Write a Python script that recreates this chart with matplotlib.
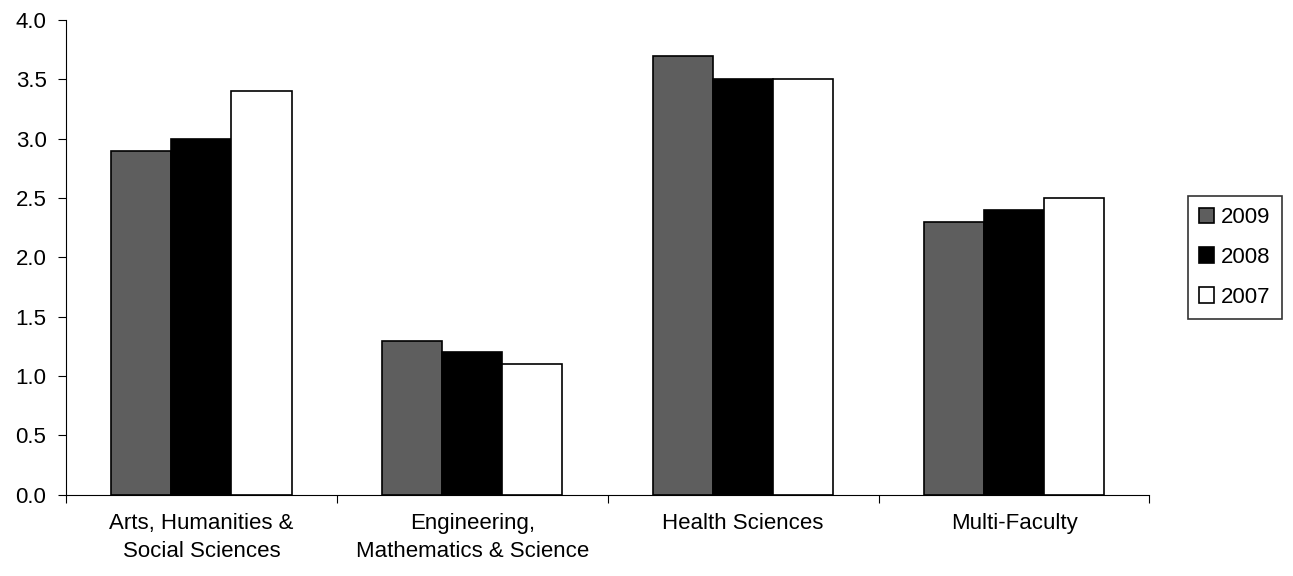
import numpy as np
from matplotlib import pyplot as plt

plt.rcParams['font.family'] = ['Liberation Sans', 'DejaVu Sans']

categories = ['Arts, Humanities &\nSocial Sciences', 'Engineering,\nMathematics & Science',
              'Health Sciences', 'Multi-Faculty']
years = ['2009', '2008', '2007']
v2009 = [2.9, 1.3, 3.7, 2.3]
v2008 = [3.0, 1.2, 3.5, 2.4]
v2007 = [3.4, 1.1, 3.5, 2.5]

fig = plt.figure(figsize=(12.93, 5.76), dpi=100)
ax = fig.add_axes([0.051, 0.141, 0.838, 0.824])

x = np.arange(len(categories))
w = 0.222
ax.bar(x - w, v2009, w, color='#5e5e5e', edgecolor='black', linewidth=1.2, label=years[0])
ax.bar(x, v2008, w, color='black', edgecolor='black', linewidth=1.2, label=years[1])
ax.bar(x + w, v2007, w, color='white', edgecolor='black', linewidth=1.2, label=years[2])

ax.set_xlim(-0.5, len(categories) - 0.5)
ax.set_ylim(0, 4.0)
ax.set_yticks(np.arange(0, 4.01, 0.5))
ax.set_yticklabels(['%.1f' % t for t in np.arange(0, 4.01, 0.5)], fontsize=16)

ax.set_xticks(np.arange(-0.5, len(categories), 1.0))
ax.set_xticklabels([])
ax.set_xticks(x, minor=True)
ax.set_xticklabels(categories, minor=True, fontsize=16, linespacing=1.45)
ax.tick_params(axis='x', which='minor', length=0, pad=13)
ax.tick_params(axis='x', which='major', length=6, direction='out')
ax.tick_params(axis='y', length=6, direction='out', pad=8)

for s in ['top', 'right']:
    ax.spines[s].set_visible(False)

leg = ax.legend(loc='center left', bbox_to_anchor=(1.025, 0.5), fontsize=16,
                frameon=True, fancybox=False, edgecolor='black',
                handlelength=0.7, handleheight=0.7, handletextpad=0.3,
                borderpad=0.5, labelspacing=0.85)
leg.get_frame().set_linewidth(1.2)

plt.savefig('out.png', dpi=100)
